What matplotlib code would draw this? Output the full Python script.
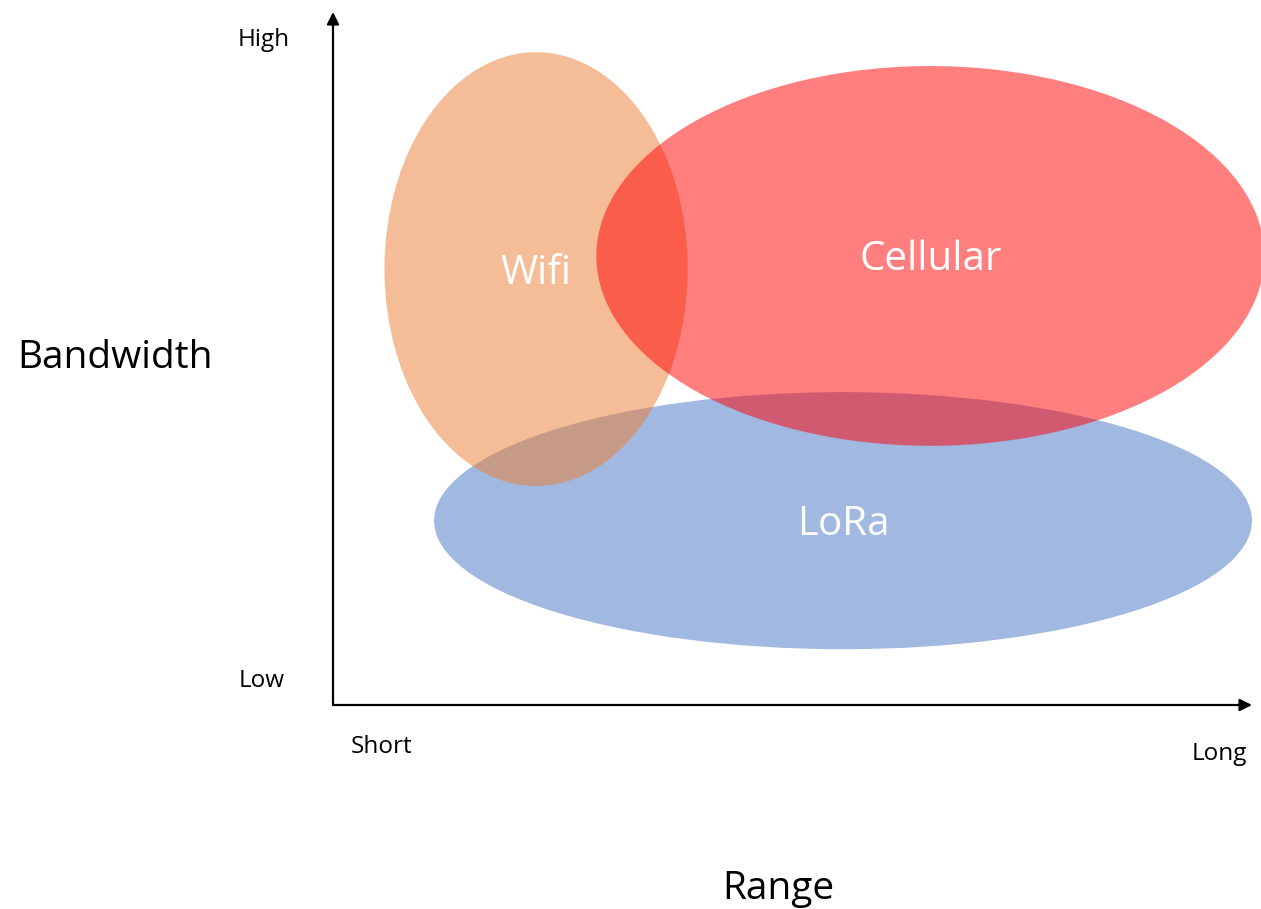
import matplotlib
matplotlib.use("Agg")
import matplotlib.pyplot as plt
from matplotlib.patches import Ellipse

plt.rcParams['font.family'] = ['Open Sans', 'DejaVu Sans']

# Data (range 0-10 = Short..Long, bandwidth 0-10 = Low..High)
technologies = ["LoRa", "Wifi", "Cellular"]
center_range = [5.55, 2.21, 6.50]
center_bandwidth = [2.66, 6.29, 6.48]
span_range = [8.90, 3.30, 7.27]
span_bandwidth = [3.71, 6.26, 5.48]
base_colors = ["#4472C4", "#ED7D31", "#FF0000"]

x_labels = ["Short", "Long"]
y_labels = ["Low", "High"]

fig = plt.figure(figsize=(12.61, 9.09), dpi=100)
ax = fig.add_axes([333/1261, 1 - 705/909, 919/1261, 693/909])
ax.set_xlim(0, 10)
ax.set_ylim(0, 10)
ax.axis('off')

for name, cx, cy, w, h, col in zip(technologies, center_range, center_bandwidth,
                                    span_range, span_bandwidth, base_colors):
    e = Ellipse((cx, cy), w, h, facecolor=col, alpha=0.5, edgecolor='none', clip_on=False)
    ax.add_patch(e)
    ax.text(cx, cy - 0.06, name, color='white', fontsize=29, ha='center', va='center', zorder=5)

# axes arrows
ax.annotate('', xy=(10, 0), xytext=(0, 0),
            arrowprops=dict(arrowstyle='-|>', lw=1.6, color='black', mutation_scale=18,
                            shrinkA=0, shrinkB=0), annotation_clip=False)
ax.annotate('', xy=(0, 10), xytext=(0, 0),
            arrowprops=dict(arrowstyle='-|>', lw=1.6, color='black', mutation_scale=18,
                            shrinkA=0, shrinkB=0), annotation_clip=False)

ax.text(0.196, -0.60, x_labels[0], fontsize=17.5, ha='left', va='center', clip_on=False)
ax.text(9.95, -0.71, x_labels[1], fontsize=17.5, ha='right', va='center', clip_on=False)
ax.text(-0.53, 0.34, y_labels[0], fontsize=17.5, ha='right', va='center', clip_on=False)
ax.text(-0.47, 9.60, y_labels[1], fontsize=17.5, ha='right', va='center', clip_on=False)

ax.text(4.85, -2.66, "Range", fontsize=28, ha='center', va='center', clip_on=False)
ax.text(-2.37, 5.0, "Bandwidth", fontsize=28, ha='center', va='center', clip_on=False)

fig.savefig("out.png", dpi=100)
